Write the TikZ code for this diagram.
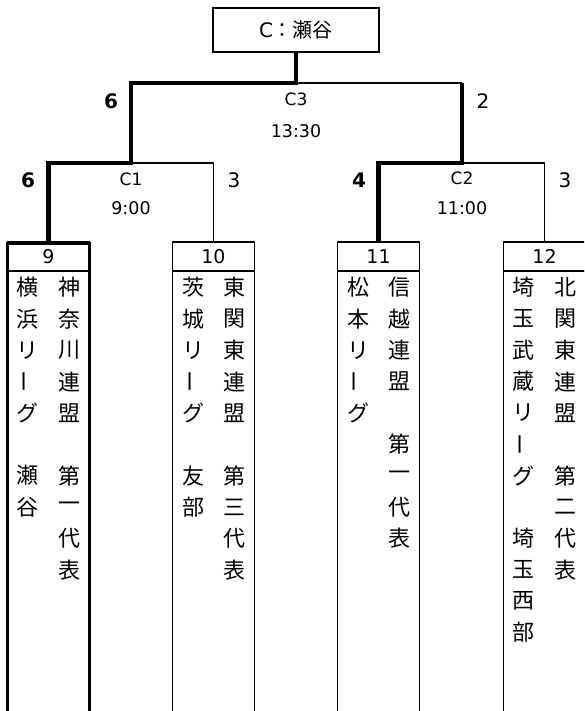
\documentclass[tikz,border=0pt]{standalone}
\usepackage{fontspec}
\usepackage{graphicx}
\setmainfont{DejaVu Sans}
\newfontfamily\jp{Noto Sans CJK JP}
\newcommand{\vbar}{\rotatebox[origin=c]{90}{ー}}
\newcommand{\jcol}[3]{% name, x, list
  \foreach \ch [count=\i] in {#3} {
    \node[jpc] (#1-\i) at (#2, {287.5+(\i-1)*31.36}) {\ch};
  }}
\begin{document}
\begin{tikzpicture}[x=1pt,y=-1pt,
  win/.style={line width=4.5pt, line join=miter},
  lose/.style={line width=1.4pt},
  hdr/.style={draw, line width=1.4pt, minimum width=82pt, minimum height=29pt, inner sep=0pt, font=\fontsize{19}{19}\selectfont},
  bodybox/.style={draw, line width=1.4pt, minimum width=82pt, minimum height=470pt, anchor=north, inner sep=0pt},
  framebox/.style={draw, line width=3pt, minimum width=82pt, minimum height=500pt, anchor=north, inner sep=0pt},
  jpc/.style={font=\jp\fontsize{22}{22}\selectfont, inner sep=0pt},
  score/.style={font=\fontsize{20}{20}\selectfont, inner sep=0pt},
  bscore/.style={font=\fontsize{20}{20}\selectfont\bfseries, inner sep=0pt},
  match/.style={font=\fontsize{17}{17}\selectfont, inner sep=0pt},
  time/.style={font=\fontsize{17.5}{17.5}\selectfont, inner sep=0pt}
]
\useasboundingbox[fill=white] (0,0) rectangle (584,711);
\begin{scope}
\clip (0,0) rectangle (584,711);
% boxes
\node[framebox] (b9f) at (48.5,242) {};
\node[hdr] (b9) at (48.5,256.5) {9};
\node[bodybox] (b10b) at (213.5,271) {};
\node[hdr] (b10) at (213.5,256.5) {10};
\node[bodybox] (b11b) at (378.5,271) {};
\node[hdr] (b11) at (378.5,256.5) {11};
\node[bodybox] (b12b) at (544.5,271) {};
\node[hdr] (b12) at (544.5,256.5) {12};
\end{scope}
% top box
\node[draw, line width=1.4pt, minimum width=166pt, minimum height=44pt, inner sep=0pt,
  font=\fontsize{20}{20}\selectfont] (top) at (296,30) {C\jp：瀬谷};
% junctions
\coordinate (j3) at (296,83);
\coordinate (c3r) at (462,83);
\coordinate (j1) at (131,163);
\coordinate (j2) at (462,163);
% connectors
\draw[win] (top.south) -- (j3) -| (j1) -| (b9f.north);
\draw[lose] (j3) -- (c3r);
\draw[win] (c3r) -- (j2) -| (b11.north);
\draw[lose] (j1) -| (b10.north);
\draw[lose] (j2) -| (b12.north);
% labels
\node[bscore] (s3a) at (111,101) {6};
\node[score] (s3b) at (483,101) {2};
\node[match] (m3) at (296,99) {C3};
\node[time] (t3) at (296,131) {13:30};
\node[bscore] (s1a) at (28,180) {6};
\node[score] (s1b) at (234,180) {3};
\node[match] (m1) at (131,179) {C1};
\node[time] (t1) at (131,208) {9:00};
\node[bscore] (s2a) at (359,180) {4};
\node[score] (s2b) at (565,180) {3};
\node[match] (m2) at (462,178.5) {C2};
\node[time] (t2) at (462,208) {11:00};
% vertical texts
\jcol{a1}{27.8}{横,浜,リ,\vbar,グ,,瀬,谷}
\jcol{a2}{69.7}{神,奈,川,連,盟,,第,一,代,表}
\jcol{b1}{193.3}{茨,城,リ,\vbar,グ,,友,部}
\jcol{b2}{234.5}{東,関,東,連,盟,,第,三,代,表}
\jcol{c1}{358.2}{松,本,リ,\vbar,グ}
\jcol{c2}{399.5}{信,越,連,盟,,第,一,代,表}
\jcol{d1}{523.3}{埼,玉,武,蔵,リ,\vbar,グ,,埼,玉,西,部}
\jcol{d2}{565.3}{北,関,東,連,盟,,第,二,代,表}
\end{tikzpicture}
\end{document}
